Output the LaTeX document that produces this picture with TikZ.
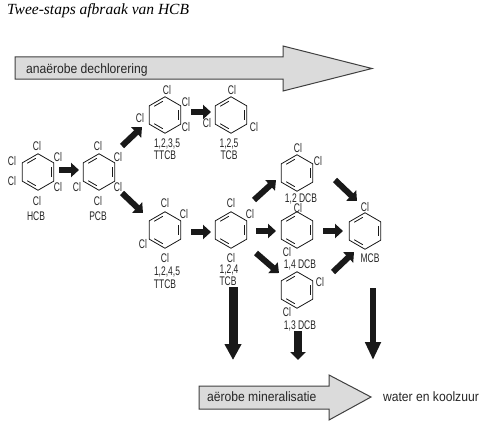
\documentclass[tikz,border=0pt]{standalone}
\usepackage{fontspec}
\setmainfont{Liberation Sans}
\newfontfamily\condfont{Liberation Sans}[FakeStretch=0.68]
\newfontfamily\barfont{Liberation Sans}[FakeStretch=0.9]
\newfontfamily\titlefont{Liberation Serif}[ItalicFont=Liberation Serif Italic]
\usetikzlibrary{shapes.geometric,arrows.meta,calc}
\tikzset{
  lab/.style={inner sep=0pt,outer sep=0pt,font=\condfont\fontsize{12.5}{13}\selectfont,text=black!85},
  barlab/.style={inner sep=0pt,outer sep=0pt,font=\barfont\fontsize{13.5}{14}\selectfont,text=black!85},
  ringnode/.style={regular polygon,regular polygon sides=6,shape border rotate=-30,minimum size=36.5pt,inner sep=0pt,outer sep=0pt,draw=black!90,line width=0.8pt},
  graybar/.style={draw=black!75,line width=1pt,fill=gray!28!white,line join=miter},
  blk/.style={draw=black!90,line width=6pt,-{Triangle[length=8pt,width=14pt]}},
  blkbig/.style={draw=black!90,line width=9pt,-{Triangle[length=16pt,width=16pt]}},
  blkmid/.style={draw=black!90,line width=8pt,-{Triangle[length=8pt,width=15pt]}},
  blkthin/.style={draw=black!90,line width=6.5pt,-{Triangle[length=18pt,width=15pt]}}
}
\newcommand{\bond}[3]{\draw[black!90,line width=0.8pt,shorten >=2.5pt,shorten <=2.5pt]
  ($(#1.center)!.82!(#1.corner #2)$) -- ($(#1.center)!.82!(#1.corner #3)$);}
\newcommand{\ringat}[3]{\node[ringnode] (#1) at (#2,#3) {};\bond{#1}{2}{3}\bond{#1}{4}{5}\bond{#1}{6}{1}}
\begin{document}
\begin{tikzpicture}[x=1pt,y=-1pt]
\useasboundingbox (0,0) rectangle (484,428);
\fill[white] (0,0) rectangle (484,428);
\node[anchor=west,inner sep=0pt] (title) at (7,10.5) {\titlefont\itshape\fontsize{15.5}{16}\selectfont Twee-staps afbraak van HCB};
% grey arrows
\draw[graybar] (15,57) -- (283,57) -- (283,46) -- (372,68.5) -- (283,91) -- (283,79) -- (15,79) -- cycle;
\node[barlab,anchor=west] (ana) at (26,70) {anaërobe dechlorering};
\draw[graybar] (199,386) -- (329,386) -- (329,375) -- (371,397) -- (329,420) -- (329,409) -- (199,409) -- cycle;
\node[barlab,anchor=west] (aer) at (207,397) {aërobe mineralisatie};
\node[barlab,anchor=west] (water) at (383,397) {water en koolzuur};
% rings
\ringat{hcb}{38}{172}
\ringat{pcb}{99}{172}
\ringat{ttcbA}{165}{115}
\ringat{tcbA}{231}{115}
\ringat{ttcbB}{165}{230}
\ringat{tcb}{231}{230}
\ringat{dcbA}{297}{173}
\ringat{dcbB}{297}{230}
\ringat{dcbC}{297}{290}
\ringat{mcb}{365}{231}
% chlorine labels
\foreach \x/\y in {37/146,12/161,12/181,58/157,58/187,37/201,
  98/146,118/157,77/187,118/187,98/201,
  167/90,186/102,186/127,140/118,
  232/90,207/123,254/127,
  165/203,184/214,143/244,165/258,
  231/203,250/214,231/258,
  298/148,318/161,298/208,287/252,320/282,287/312,365/207}
  \node[lab] (cl-\x-\y) at (\x,\y) {Cl};
% compound labels
\node[lab] (nHCB) at (36,216) {HCB};
\node[lab] (nPCB) at (98,216) {PCB};
\node[lab] (nA) at (167,144) {1,2,3,5};
\node[lab] (nAb) at (165,155) {TTCB};
\node[lab] (nB) at (229,144) {1,2,5};
\node[lab] (nBb) at (229,155) {TCB};
\node[lab] (nC) at (167,272) {1,2,4,5};
\node[lab] (nCb) at (165,284) {TTCB};
\node[lab] (nD) at (229,270) {1,2,4};
\node[lab] (nDb) at (228,281) {TCB};
\node[lab] (nE) at (301,199) {1,2 DCB};
\node[lab] (nF) at (300,265) {1,4 DCB};
\node[lab] (nG) at (300,326) {1,3 DCB};
\node[lab] (nH) at (370,258) {MCB};
% black arrows
\draw[blk] ([shift={(21,-2)}]hcb.center) -- ([shift={(-20,-2)}]pcb.center);
\draw[blk] ([shift={(23,-26)}]pcb.center) -- ([shift={(-23,12)}]ttcbA.center);
\draw[blk] ([shift={(23,21)}]pcb.center) -- ([shift={(-22,-17)}]ttcbB.center);
\draw[blk] ([shift={(26,-3)}]ttcbA.center) -- ([shift={(-20,-3)}]tcbA.center);
\draw[blk] ([shift={(26,2)}]ttcbB.center) -- ([shift={(-20,2)}]tcb.center);
\draw[blk] ([shift={(23,-30)}]tcb.center) -- ([shift={(-21,7)}]dcbA.center);
\draw[blk] ([shift={(25,1)}]tcb.center) -- ([shift={(-21,1)}]dcbB.center);
\draw[blk] ([shift={(25,23)}]tcb.center) -- ([shift={(-18,-17)}]dcbC.center);
\draw[blk] ([shift={(38,7)}]dcbA.center) -- ([shift={(-8,-30)}]mcb.center);
\draw[blk] ([shift={(26,1)}]dcbB.center) -- ([shift={(-22,0)}]mcb.center);
\draw[blk] ([shift={(36,-18)}]dcbC.center) -- ([shift={(-11,21)}]mcb.center);
\draw[blkbig] ([shift={(2,57)}]tcb.center) -- ([shift={(26,-37)}]aer.west);
\draw[blkmid] ([shift={(1,41)}]dcbC.center) -- ([shift={(91,-37)}]aer.west);
\draw[blkthin] ([shift={(8,57)}]mcb.center) -- ([shift={(166,-37)}]aer.west);
\end{tikzpicture}
\end{document}
